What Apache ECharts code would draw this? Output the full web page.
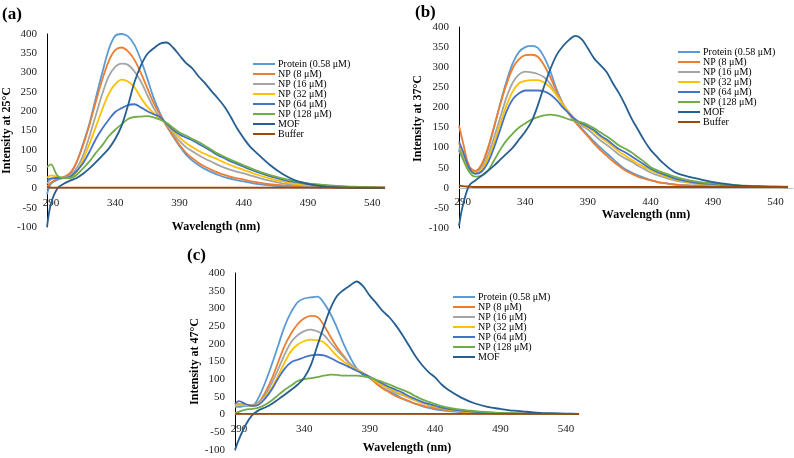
<!DOCTYPE html>
<html>
<head>
<meta charset="utf-8">
<script src="https://cdn.jsdelivr.net/npm/echarts@6/dist/echarts.min.js"></script>
<style>html,body{margin:0;padding:0;background:#fff;}#c{width:794px;height:458px;}</style>
</head>
<body>
<div id="c"></div>
<script>
// wavelength grid (nm)
const wavelength = [287,290,295,300,305,310,315,320,325,330,335,340,345,350,355,360,365,370,375,380,385,390,395,400,405,410,415,420,425,430,435,440,445,450,460,470,480,490,500,510,520,530,540,550];
const xTickLabels = [290,340,390,440,490,540];
const seriesNames = ['Protein (0.58 μM)','NP (8 μM)','NP (16 μM)','NP (32 μM)','NP (64 μM)','NP (128 μM)','MOF','Buffer'];
const seriesColors = ['#5B9BD5','#ED7D31','#A5A5A5','#FFC000','#4472C4','#70AD47','#255E91','#9E480E'];

// (a) 25 °C
const protA  = [-15,12,22,28,38,68,115,168,235,300, 360,395,400,394,372,333,285,234,194,162, 135,110,88,72,60,50,42,35,29,25, 21,18,15,12, 8,5,4,3,2,2,1,1,1,1];
const np8A   = [5,15,24,30,40,68,112,165,225,282, 330,358,365,355,333,299,260,221,190,162, 137,113,93,78,66,56,48,41,35,30, 26,23,19,16, 11,8,6,4,3,2,2,1,1,1];
const np16A  = [12,24,27,28,33,52,85,135,190,245, 290,315,323,320,303,277,242,208,182,166, 143,123,107,96,86,77,69,61,54,48, 43,39,34,29, 20,13,9,6,5,4,3,2,2,1];
const np32A  = [28,34,30,27,29,42,75,115,160,205, 245,270,282,277,262,235,212,195,180,168, 148,132,118,107,97,89,82,75,67,60, 54,48,42,36, 26,18,12,9,7,5,4,3,2,2];
const np64A  = [22,26,27,27,30,45,65,95,128,155, 178,198,208,216,218,210,200,192,185,168, 152,140,132,125,115,106,96,86,78,70, 63,56,49,43, 32,23,16,11,8,6,4,3,2,2];
const np128A = [55,62,33,27,27,35,52,70,92,112, 135,152,166,180,185,186,187,184,178,170, 157,145,137,128,120,110,100,90,82,74, 67,60,53,46, 35,26,19,13,10,7,5,4,3,2];
const mofA   = [-100,-40,0,12,20,27,38,52,68,85, 103,128,162,215,275,318,348,363,375,378, 365,345,325,311,290,272,252,233,212,185, 155,130,108,92, 62,38,21,12,6,3,2,1,1,1];
const bufA   = [3,2,2,2,2,2,2,2,2,2, 2,2,2,2,2,2,2,2,2,2, 2,2,2,2,2,2,2,2,2,2, 2,2,2,2, 2,2,2,2,2,2,2,2,2,2];

// (b) 37 °C
const protB  = [92,75,45,38,55,95,150,210,265,310, 338,350,353,348,325,290,245,210,185,165, 148,131,115,100,86,72,58,46,38,31, 25,19,15,12, 8,6,5,4,3,3,2,2,2,2];
const np8B   = [155,115,55,42,58,98,152,208,258,298, 320,330,331,326,305,275,240,208,183,163, 145,128,110,94,80,66,54,43,35,28, 23,19,15,12, 8,6,5,4,3,3,2,2,2,2];
const np16B  = [100,82,48,37,48,80,125,175,225,262, 282,289,287,283,275,258,232,208,185,168, 155,145,132,118,107,95,82,73,65,55, 47,38,32,27, 18,13,9,7,5,4,3,3,2,2];
const np32B  = [110,88,48,37,45,72,112,160,205,240, 260,266,268,268,262,250,230,208,188,170, 158,150,140,126,115,103,90,80,70,60, 52,44,37,31, 21,14,10,8,6,5,4,3,3,2];
const np64B  = [115,92,50,35,40,62,100,145,190,220, 235,242,242,242,240,232,218,200,185,170, 160,152,143,130,120,108,96,88,78,68, 58,48,40,34, 23,16,11,9,7,5,4,3,3,2];
const np128B = [95,72,40,28,30,42,68,95,118,135, 150,160,170,176,180,182,180,176,170,166, 163,157,148,138,128,117,105,97,88,76, 65,52,44,38, 27,19,14,11,8,6,5,4,3,3];
const mofB   = [-95,-45,5,18,30,42,55,70,85,100, 120,140,165,205,252,295,330,352,368,378, 370,347,322,305,288,260,235,205,172,145, 118,95,78,62, 38,28,21,14,10,6,4,3,2,1];
const bufB   = [6,4,3,2,2,2,2,2,2,2, 2,2,2,2,2,2,2,2,2,2, 2,2,2,2,2,2,2,2,2,2, 2,2,2,2, 2,2,2,2,2,2,2,2,2,2];

// (c) 47 °C
const protC  = [22,22,25,25,48,90,140,195,250,290, 318,328,331,333,315,285,245,200,162,130, 112,103,88,75,65,56,45,37,30,24, 19,15,12,10, 7,5,4,3,3,2,2,2,2,2];
const np8C   = [25,28,28,25,35,62,100,148,195,230, 256,272,279,276,252,220,190,166,143,128, 117,105,88,74,63,52,45,38,31,26, 21,18,15,12, 8,6,5,4,3,3,2,2,2,2];
const np16C  = [28,30,28,26,33,55,88,128,170,205, 225,236,240,235,225,203,182,162,143,128, 117,106,93,82,72,62,55,47,40,33, 27,22,18,14, 10,7,5,4,3,3,2,2,2,2];
const np32C  = [25,27,27,25,30,48,75,110,148,180, 198,208,212,210,204,186,165,150,138,126, 117,106,93,83,74,65,57,48,41,34, 28,23,19,15, 10,7,5,4,3,3,2,2,2,2];
const np64C  = [30,38,30,25,28,45,70,102,130,148, 155,162,167,169,167,160,150,142,133,124, 115,107,97,87,78,70,62,52,44,36, 30,25,20,16, 11,8,6,4,3,3,2,2,2,2];
const np128C = [5,8,14,16,20,28,40,55,70,82, 95,100,103,106,110,113,112,110,110,110, 108,105,98,92,85,77,70,62,52,43, 36,30,24,20, 14,10,7,5,4,3,3,2,2,2];
const mofC   = [-100,-70,-30,-2,12,20,30,43,56,70, 85,105,140,195,250,300,335,352,365,376, 362,336,315,292,275,252,225,195,165,140, 120,105,85,70, 48,32,22,16,11,8,5,4,3,2];
const bufC   = [2,2,2,2,2,2,2,2,2,2, 2,2,2,2,2,2,2,2,2,2, 2,2,2,2,2,2,2,2,2,2, 2,2,2,2, 2,2,2,2,2,2,2,2,2,2];

const FONT = '"Liberation Serif", "Times New Roman", serif';
const Y_MIN = -100, Y_MAX = 400;

const panels = [
  {label:'(a)', yName:'Intensity at 25°C', grid:{left:45, top:34, width:340, height:193}, xMax:550,
   data:[protA,np8A,np16A,np32A,np64A,np128A,mofA,bufA], legendNames: seriesNames,
   legend:{left:253, top:59}, yNameGap:32, yNamePad:[0,0,0,0], xNameGap:33, xNamePad:[0,0,0,0],
   title:{left:2, top:6}},
  {label:'(b)', yName:'Intensity at 37°C', grid:{left:459, top:27, width:334, height:201}, xMax:554,
   data:[protB,np8B,np16B,np32B,np64B,np128B,mofB,bufB], legendNames: seriesNames,
   legend:{left:678, top:47}, yNameGap:35, yNamePad:[0,0,0,18], xNameGap:21, xNamePad:[0,0,0,40],
   title:{left:415, top:4}},
  {label:'(c)', yName:'Intensity at 47°C', grid:{left:235, top:273, width:344, height:177}, xMax:550,
   data:[protC,np8C,np16C,np32C,np64C,np128C,mofC,bufC], legendNames: seriesNames.slice(0,7),
   legend:{left:453, top:292}, yNameGap:31, yNamePad:[0,0,0,0], xNameGap:27, xNamePad:[0,0,0,0],
   title:{left:187, top:247}}
];

const option = {
  animation:false,
  backgroundColor:'#fff',
  title:[], grid:[], xAxis:[], yAxis:[], legend:[], series:[]
};

panels.forEach((p, k) => {
  // place the horizontal axis on the zero line (Excel style)
  const zeroOffset = -p.grid.height * (0 - Y_MIN) / (Y_MAX - Y_MIN);
  option.title.push({text:p.label, left:p.title.left, top:p.title.top, padding:0,
    textStyle:{fontFamily:FONT, fontWeight:'bold', fontSize:17, color:'#000'}});
  option.grid.push(Object.assign({containLabel:false}, p.grid));
  option.xAxis.push({
    type:'value', gridIndex:k, min:287, max:p.xMax, position:'bottom', offset:zeroOffset,
    name:'Wavelength (nm)', nameLocation:'middle', nameGap:p.xNameGap,
    nameTextStyle:{fontFamily:FONT, fontWeight:'bold', fontSize:12, color:'#000', padding:p.xNamePad},
    axisLine:{show:true, onZero:false, lineStyle:{color:'#bfbfbf', width:1}},
    axisTick:{show:false}, splitLine:{show:false},
    axisLabel:{customValues:xTickLabels, margin:9, fontFamily:FONT, fontSize:11, color:'#222'}
  });
  option.yAxis.push({
    type:'value', gridIndex:k, min:Y_MIN, max:Y_MAX, interval:50,
    name:p.yName, nameLocation:'middle', nameGap:p.yNameGap, nameRotate:90,
    nameTextStyle:{fontFamily:FONT, fontWeight:'bold', fontSize:12, color:'#000', padding:p.yNamePad},
    axisLine:{show:true, onZero:false, lineStyle:{color:'#000', width:1}},
    axisTick:{show:false}, splitLine:{show:false},
    axisLabel:{margin:10, fontFamily:FONT, fontSize:11, color:'#222'}
  });
  option.legend.push({
    orient:'vertical', left:p.legend.left, top:p.legend.top, padding:0, itemGap:0,
    icon:'rect', itemWidth:22, itemHeight:2, data:p.legendNames,
    textStyle:{fontFamily:FONT, fontSize:10, color:'#000', lineHeight:10, padding:[0,0,0,-2]}
  });
  p.data.forEach((vals, i) => {
    option.series.push({
      type:'line', name:seriesNames[i], xAxisIndex:k, yAxisIndex:k,
      data: wavelength.map((w, j) => [w, vals[j]]),
      symbol:'none', smooth:0.35, color:seriesColors[i],
      lineStyle:{width:1.8, color:seriesColors[i]}
    });
  });
});

const chart = echarts.init(document.getElementById('c'), null, {renderer:'canvas'});
chart.setOption(option);
</script>
</body>
</html>
